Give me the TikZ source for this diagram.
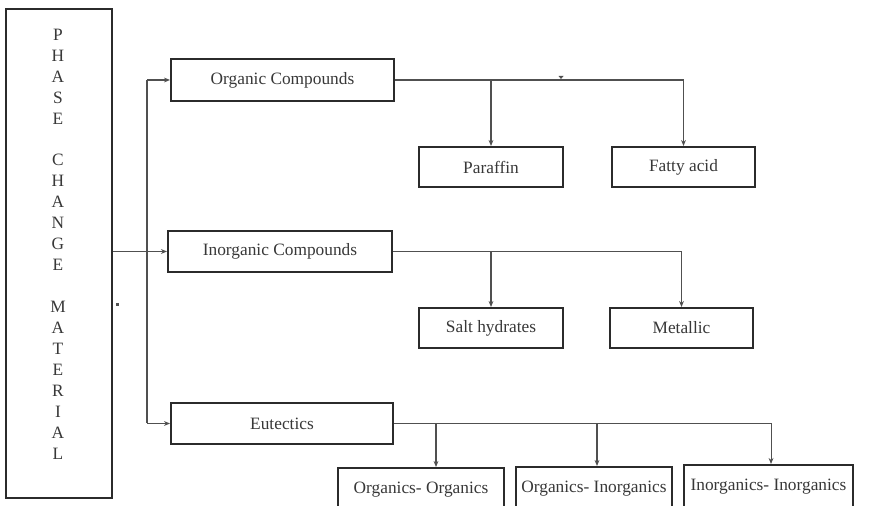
\documentclass[tikz,border=0pt]{standalone}
\usepackage{fontspec}
\setmainfont{Liberation Serif}
\usetikzlibrary{arrows.meta}
\definecolor{boxline}{HTML}{2B2B2B}
\definecolor{wire}{HTML}{505050}
\definecolor{ink}{HTML}{383838}
\begin{document}
\begin{tikzpicture}[x=0.75pt,y=-0.75pt,
  box/.style={draw=boxline,line width=1.5pt,anchor=north west,inner sep=0pt,
    text=ink,font=\fontsize{13}{15}\selectfont,align=center},
  conn/.style={draw=wire,line width=0.8pt},
  arr/.style={conn,-{Stealth[length=4.5pt,width=3.6pt]}}]
\useasboundingbox (0,0) rectangle (869,506);
\fill[white] (0,0) rectangle (869,506);

% main column
\node[box,minimum width=79.5pt,minimum height=366.75pt] (pcm) at (5,8) {};
\node[text=ink,font=\fontsize{13}{15.7}\selectfont,align=center,inner sep=0pt] (pcmtxt) at (58,244)
  {P\\H\\A\\S\\E\\[15.7pt]C\\H\\A\\N\\G\\E\\[15.7pt]M\\A\\T\\E\\R\\I\\A\\L};

% categories
\node[box,minimum width=167.25pt,minimum height=31.5pt] (org) at (170,58) {Organic Compounds};
\node[box,minimum width=168pt,minimum height=30.75pt] (inorg) at (167,230) {Inorganic Compounds};
\node[box,minimum width=166.5pt,minimum height=30.75pt] (eut) at (170,402) {Eutectics};

% sub-classes
\node[box,minimum width=108pt,minimum height=30pt] (par) at (418,146) {Paraffin};
\node[box,minimum width=107.25pt,minimum height=30pt] (fat) at (611,146) {Fatty acid};
\node[box,minimum width=108pt,minimum height=30pt] (salt) at (418,307) {Salt hydrates};
\node[box,minimum width=107.25pt,minimum height=30pt] (met) at (609,307) {Metallic};
\node[box,minimum width=124.5pt,minimum height=33pt] (oo) at (337,467) {Organics- Organics};
\node[box,minimum width=117pt,minimum height=33pt] (oi) at (515,466) {Organics- Inorganics};
\node[box,minimum width=126.75pt,minimum height=33pt] (ii) at (683,464) {Inorganics- Inorganics};

% trunk from the main column
\coordinate (ttop) at ([xshift=-17.25pt]org.west);
\coordinate (tbot) at ([xshift=-17.25pt]eut.west);
\draw[conn] (ttop) -- (tbot);
\draw[arr] (ttop) -- (org.west);
\draw[arr] (tbot) -- (eut.west);
\draw[arr] (pcm.east |- inorg.west) -- (inorg.west);

% organic branches
\draw[arr] (org.east) -| (fat.north);
\draw[arr] (org.east -| par.north) -- (par.north);

% inorganic branches
\draw[arr] (inorg.east) -| (met.north);
\draw[arr] (inorg.east -| salt.north) -- (salt.north);

% eutectic branches
\coordinate (e1) at ([xshift=11.25pt]oo.north);
\coordinate (e2) at ([xshift=2.25pt]oi.north);
\coordinate (e3) at ([xshift=1.9pt]ii.north);
\draw[arr] (eut.east) -| (e3);
\draw[arr] (eut.east -| e1) -- (e1);
\draw[arr] (eut.east -| e2) -- (e2);

% small marks
\fill[wire] (115.5,303.5) rectangle (118.5,306.5);
\fill[wire] (558.5,76) -- (563.5,76) -- (561,79) -- cycle;
\end{tikzpicture}
\end{document}
